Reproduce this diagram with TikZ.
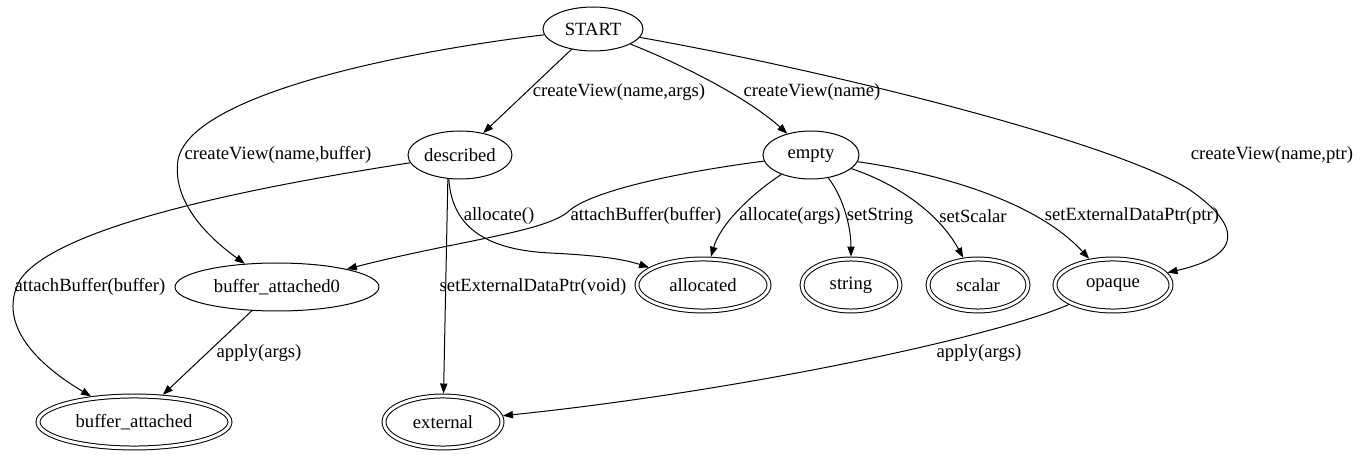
\documentclass[tikz,border=0pt]{standalone}
\usepackage{fontspec}
\setmainfont{Liberation Serif}
\usetikzlibrary{shapes.geometric,arrows.meta}
\begin{document}
\begin{tikzpicture}[x=0.75pt,y=-0.75pt,
  font=\fontsize{14pt}{16pt}\selectfont,
  state/.style={ellipse,draw,line width=0.75pt,inner sep=0pt,minimum height=36pt},
  final/.style={ellipse,draw,line width=0.75pt,double,double distance=2.2pt,inner sep=0pt,outer sep=1.85pt,minimum height=39pt},
  conn/.style={line width=0.75pt,-{Triangle[length=7.5pt,width=5.5pt]}},
  lbl/.style={inner sep=0pt}]
\useasboundingbox (0,0) rectangle (1361,459);
% states
\node[state,minimum width=75pt,minimum height=33pt] (START) at (593,29) {START};
\node[state,minimum width=78pt] (described) at (460,155) {described};
\node[state,minimum width=72pt] (empty) at (811,155) {empty};
\node[state,minimum width=153pt] (ba0) at (277,287) {buffer\_attached0};
\node[final,minimum width=99pt] (allocated) at (703,285) {allocated};
\node[final,minimum width=73.5pt] (string) at (851,285) {string};
\node[final,minimum width=75pt] (scalar) at (978,285) {scalar};
\node[final,minimum width=87pt] (opaque) at (1113,285) {opaque};
\node[final,minimum width=144pt] (ba) at (134,422) {buffer\_attached};
\node[final,minimum width=88.5pt] (external) at (443,422) {external};
% edges
\draw[conn] (START) -- (described);
\draw[conn] (START) .. controls (690,68) and (750,100) .. (empty);
\draw[conn] (START) .. controls (400,52) and (190,95) .. (178,160) .. controls (172,200) and (205,235) .. (ba0);
\draw[conn] (START) .. controls (850,75) and (1120,145) .. (1190,190) .. controls (1240,225) and (1245,255) .. (opaque);
\draw[conn] (described) .. controls (300,180) and (60,220) .. (20,280) .. controls (-2,320) and (30,360) .. (ba);
\draw[conn] (described.243) -- (external);
\draw[conn] (described.245) .. controls (452,230) and (490,250) .. (550,253) .. controls (590,255) and (620,258) .. (allocated);
\draw[conn] (empty) .. controls (680,172) and (595,190) .. (570,210) .. controls (548,232) and (460,240) .. (ba0);
\draw[conn] (empty) .. controls (750,195) and (720,225) .. (allocated);
\draw[conn] (empty) .. controls (845,200) and (851,230) .. (string);
\draw[conn] (empty) .. controls (900,185) and (940,215) .. (scalar);
\draw[conn] (empty) .. controls (950,175) and (1040,205) .. (opaque);
\draw[conn] (ba0) -- (ba);
\draw[conn] (opaque) .. controls (1000,335) and (750,390) .. (external);
% labels
\node[lbl] (l1) at (619,92) {createView(name,args)};
\node[lbl] (l2) at (812,92) {createView(name)};
\node[lbl] (l3) at (278,155) {createView(name,buffer)};
\node[lbl] (l4) at (1272,155) {createView(name,ptr)};
\node[lbl] (l5) at (90,287) {attachBuffer(buffer)};
\node[lbl] (l6) at (533,287) {setExternalDataPtr(void)};
\node[lbl] (l7) at (499,216) {allocate()};
\node[lbl] (l8) at (646,216) {attachBuffer(buffer)};
\node[lbl] (l9) at (790,216) {allocate(args)};
\node[lbl] (l10) at (880,216) {setString};
\node[lbl] (l11) at (973,216) {setScalar};
\node[lbl] (l12) at (1132,216) {setExternalDataPtr(ptr)};
\node[lbl] (l13) at (259,353) {apply(args)};
\node[lbl] (l14) at (979,353) {apply(args)};
\end{tikzpicture}
\end{document}
